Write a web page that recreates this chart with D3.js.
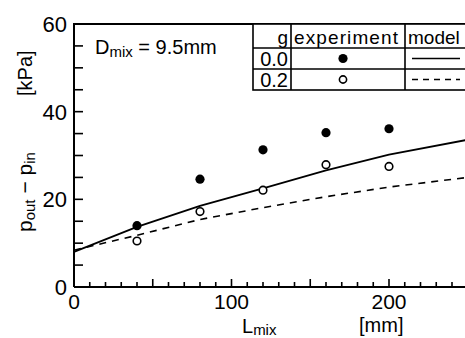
<!DOCTYPE html>
<html>
<head>
<meta charset="utf-8">
<script src="https://cdn.jsdelivr.net/npm/d3@7"></script>
<style>
  body { margin: 0; background: #fff; }
  svg { display: block; font-family: "Liberation Sans", Arial, sans-serif; }
</style>
</head>
<body>
<svg id="chart" width="465" height="338"></svg>
<script>
// ─── DATA ─────────────────────────────────────────────────────────────────────
const lengths   = [40, 80, 120, 160, 200];        // L_mix [mm]
const expG00    = [14.0, 24.6, 31.3, 35.2, 36.1]; // filled dots, g = 0.0
const expG02    = [10.5, 17.2, 22.1, 27.9, 27.5]; // open dots, g = 0.2
const modelL    = [0, 40, 80, 120, 160, 200, 250];
const modelG00  = [8.0, 13.7, 18.5, 22.5, 26.6, 30.2, 33.6];
const modelG02  = [8.4, 11.8, 15.4, 18.1, 20.6, 22.8, 25.0];
const xLabels   = [0, 100, 200];
const yLabels   = [0, 20, 40, 60];
const legendRows = [
  { g: '0.0', filled: true,  dash: null },
  { g: '0.2', filled: false, dash: '6,5' },
];
// ──────────────────────────────────────────────────────────────────────────────

const svg = d3.select('#chart');
const plotLeft = 74, plotBottom = 287, plotTop = 24;

const x = d3.scaleLinear().domain([0, 250]).range([plotLeft, plotLeft + 250 * 1.575]);
const y = d3.scaleLinear().domain([0, 60]).range([plotBottom, plotTop]);

// frame: left axis, bottom axis, top line
svg.append('path')
  .attr('d', `M${x(0)},${y(0)}V${y(60)}H470M${x(0)},${y(0)}H470`)
  .attr('fill', 'none').attr('stroke', '#000').attr('stroke-width', 2);

// ticks (inward)
const xTicks = d3.range(10, 251, 10);
svg.append('g').selectAll('line').data(xTicks).join('line')
  .attr('x1', (d) => x(d)).attr('x2', (d) => x(d))
  .attr('y1', y(0)).attr('y2', (d) => y(0) - (d % 50 === 0 ? 8 : 5))
  .attr('stroke', '#000').attr('stroke-width', 1.6);

const yTicks = d3.range(5, 60, 5);
svg.append('g').selectAll('line').data(yTicks).join('line')
  .attr('x1', x(0)).attr('x2', x(0) + 9)
  .attr('y1', (d) => y(d)).attr('y2', (d) => y(d))
  .attr('stroke', '#000').attr('stroke-width', 1.6);

// tick labels
svg.append('g').selectAll('text').data(xLabels).join('text')
  .attr('x', (d) => x(d)).attr('y', 309)
  .attr('text-anchor', 'middle').attr('font-size', 21)
  .text((d) => d);

svg.append('g').selectAll('text').data(yLabels).join('text')
  .attr('x', 67).attr('y', (d) => y(d) + 8)
  .attr('text-anchor', 'end').attr('font-size', 22)
  .text((d) => d);

// axis titles
const xt = svg.append('text').attr('x', 242).attr('y', 333).attr('font-size', 20);
xt.append('tspan').text('L');
xt.append('tspan').attr('font-size', 15).attr('dy', 2).text('mix');
svg.append('text').attr('x', 359).attr('y', 332).attr('font-size', 20).text('[mm]');

const yt = svg.append('text')
  .attr('transform', 'translate(32,232) rotate(-90)')
  .attr('font-size', 21);
yt.append('tspan').text('p');
yt.append('tspan').attr('font-size', 15).attr('dy', 3).text('out');
yt.append('tspan').attr('dy', -3).text(' \u2212 p');
yt.append('tspan').attr('font-size', 15).attr('dy', 3).text('in');
svg.append('text')
  .attr('transform', 'translate(32,96) rotate(-90)')
  .attr('font-size', 20).text('[kPa]');

// D_mix annotation
const dt = svg.append('text').attr('x', 95).attr('y', 54).attr('font-size', 20);
dt.append('tspan').text('D');
dt.append('tspan').attr('font-size', 15).attr('dy', 3).text('mix');
dt.append('tspan').attr('dy', -3).text(' = 9.5mm');

// model curves
const line = d3.line().x((d) => x(d[0])).y((d) => y(d[1]));
svg.append('path')
  .datum(d3.zip(modelL, modelG00))
  .attr('d', line).attr('fill', 'none')
  .attr('stroke', '#000').attr('stroke-width', 1.8);
svg.append('path')
  .datum(d3.zip(modelL, modelG02))
  .attr('d', line).attr('fill', 'none')
  .attr('stroke', '#000').attr('stroke-width', 1.6)
  .attr('stroke-dasharray', '7,6');

// experiment points
svg.append('g').selectAll('circle').data(d3.zip(lengths, expG00)).join('circle')
  .attr('cx', (d) => x(d[0])).attr('cy', (d) => y(d[1])).attr('r', 4.6)
  .attr('fill', '#000');
svg.append('g').selectAll('circle').data(d3.zip(lengths, expG02)).join('circle')
  .attr('cx', (d) => x(d[0])).attr('cy', (d) => y(d[1])).attr('r', 3.8)
  .attr('fill', '#fff').attr('stroke', '#000').attr('stroke-width', 1.6);

// legend table
const tL = 253, c1 = 291, c2 = 405, tR = 470;
const rowsY = [24, 48, 69, 90];
const lg = svg.append('g').attr('stroke', '#000').attr('stroke-width', 1.6);
lg.append('rect').attr('x', tL).attr('y', rowsY[0]).attr('width', tR - tL)
  .attr('height', rowsY[3] - rowsY[0]).attr('fill', '#fff');
rowsY.slice(1, 3).forEach((ry) => lg.append('line')
  .attr('x1', tL).attr('x2', tR).attr('y1', ry).attr('y2', ry));
[c1, c2].forEach((cx) => lg.append('line')
  .attr('x1', cx).attr('x2', cx).attr('y1', rowsY[0]).attr('y2', rowsY[3]));

svg.append('text').attr('x', 288).attr('y', 44).attr('text-anchor', 'end')
  .attr('font-size', 19).text('g');
svg.append('text').attr('x', 294).attr('y', 44).attr('font-size', 19)
  .attr('textLength', 104).text('experiment');
svg.append('text').attr('x', 408).attr('y', 44).attr('font-size', 19).text('model');

legendRows.forEach((r, i) => {
  const cy = (rowsY[i + 1] + rowsY[i + 2]) / 2;
  svg.append('text').attr('x', 288).attr('y', cy + 7).attr('text-anchor', 'end')
    .attr('font-size', 20).text(r.g);
  svg.append('circle').attr('cx', 343).attr('cy', cy)
    .attr('r', r.filled ? 4.6 : 3.6)
    .attr('fill', r.filled ? '#000' : '#fff')
    .attr('stroke', '#000').attr('stroke-width', r.filled ? 0 : 1.6);
  svg.append('line').attr('x1', 412).attr('x2', 460).attr('y1', cy).attr('y2', cy)
    .attr('stroke', '#000').attr('stroke-width', 1.6)
    .attr('stroke-dasharray', r.dash);
});
</script>
</body>
</html>
